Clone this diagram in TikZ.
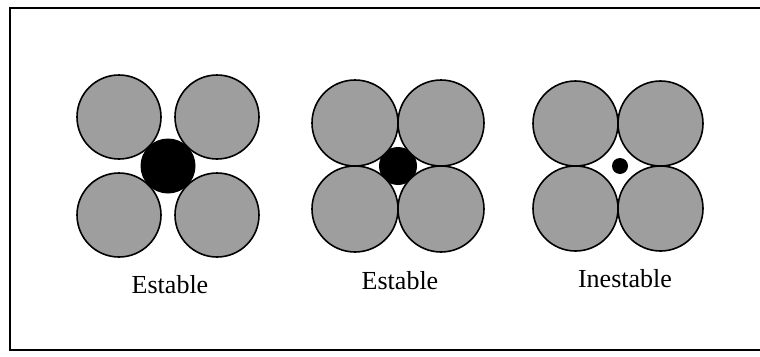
\documentclass[tikz,border=0pt]{standalone}
\usepackage{fontspec}
\setmainfont{Liberation Serif}
\usetikzlibrary{positioning}

\begin{document}
\begin{tikzpicture}[x=1pt, y=-1pt,
    anion/.style={draw, circle, line width=1.6pt, fill=black!38, inner sep=0pt},
    cation/.style={circle, fill=black, inner sep=0pt},
    caption/.style={font=\fontsize{26}{30}\selectfont, anchor=base}]
    \useasboundingbox (0,0) rectangle (760,356);

    % Frame: right edge runs off the picture
    \draw[line width=1.8pt] (760,8) -- (10,8) -- (10,350) -- (760,350);

    % Left: big cation pushes the four anions apart
    \coordinate (c1) at (168,166);
    \node[cation, minimum size=55pt] (ion1) at (c1) {};
    \foreach \dx/\dy [count=\k] in {-1/-1, 1/-1, -1/1, 1/1}
        \node[anion, minimum size=84pt] (an1-\k) at ([shift={(49*\dx,49*\dy)}] c1) {};
    \node[caption] (lab1) at (170,293) {Estable};

    % Centre: cation just fills the hole, anions touching
    \coordinate (c2) at (398,166);
    \node[cation, minimum size=38pt] (ion2) at (c2) {};
    \foreach \dx/\dy [count=\k] in {-1/-1, 1/-1, -1/1, 1/1}
        \node[anion, minimum size=86pt] (an2-\k) at ([shift={(43*\dx,43*\dy)}] c2) {};
    \node[caption] (lab2) at (400,289) {Estable};

    % Right: small cation rattles in the hole
    \coordinate (c3) at (618,166);
    \foreach \dx/\dy [count=\k] in {-1/-1, 1/-1, -1/1, 1/1}
        \node[anion, minimum size=85pt] (an3-\k) at ([shift={(42.5*\dx,42.5*\dy)}] c3) {};
    \node[cation, minimum size=16pt] (ion3) at ([xshift=2pt] c3) {};
    \node[caption] (lab3) at (625,287) {Inestable};
\end{tikzpicture}
\end{document}
